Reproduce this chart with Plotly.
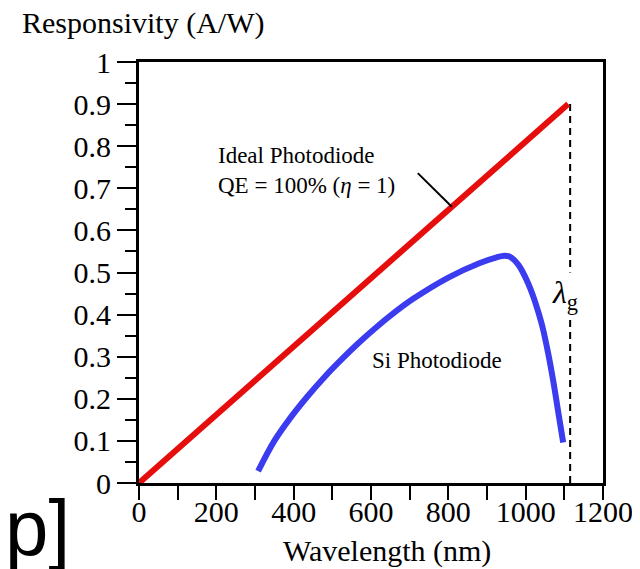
import plotly.graph_objects as go

# Data
ideal_wavelength = [0, 1110]
ideal_resp = [0.0, 0.9]

si_wavelength = [308, 350, 390, 435, 480, 520, 565, 610, 665, 710, 800, 880, 925, 945, 958, 970, 982, 993, 1006, 1019, 1032, 1045, 1058, 1071, 1084, 1097]
si_resp = [0.028, 0.100, 0.153, 0.205, 0.252, 0.290, 0.330, 0.367, 0.408, 0.438, 0.488, 0.522, 0.536, 0.540, 0.538, 0.530, 0.517, 0.500, 0.475, 0.445, 0.408, 0.365, 0.309, 0.244, 0.170, 0.096]

cutoff_wavelength = [1115, 1115]
cutoff_resp = [0.0, 0.9]

x_ticks = [0, 200, 400, 600, 800, 1000, 1200]
y_ticks = [0, 0.1, 0.2, 0.3, 0.4, 0.5, 0.6, 0.7, 0.8, 0.9, 1]
y_ticklabels = ["0", "0.1", "0.2", "0.3", "0.4", "0.5", "0.6", "0.7", "0.8", "0.9", "1"]

SERIF = "Liberation Serif, Times New Roman, serif"

# plot area in figure pixels
L, R, T, B = 131, 45, 54, 94
PW, PH = 640 - L - R, 569 - T - B

fig = go.Figure()
fig.add_trace(go.Scatter(x=cutoff_wavelength, y=cutoff_resp, mode="lines",
                         line=dict(color="black", width=2, dash="7px,5px"),
                         showlegend=False, hoverinfo="skip"))
fig.add_trace(go.Scatter(x=ideal_wavelength, y=ideal_resp, mode="lines",
                         line=dict(color="#e60d0d", width=6),
                         showlegend=False))
fig.add_trace(go.Scatter(x=si_wavelength, y=si_resp, mode="lines",
                         line=dict(color="#3b3bf0", width=6, shape="spline", smoothing=1.0),
                         showlegend=False))

axis_common = dict(showline=True, linecolor="black", linewidth=3, mirror=True,
                   showgrid=False, zeroline=False, ticks="outside",
                   tickcolor="black", tickwidth=2,
                   tickfont=dict(family=SERIF, size=30, color="black"))

fig.update_xaxes(range=[0, 1200], tickvals=x_ticks, ticklen=14, ticklabelstandoff=-14,
                 minor=dict(dtick=100, ticks="outside", ticklen=14, tickcolor="black", tickwidth=2),
                 **axis_common)
fig.update_yaxes(range=[0, 1], tickvals=y_ticks, ticktext=y_ticklabels, ticklen=19,
                 minor=dict(dtick=0.05, ticks="outside", ticklen=11, tickcolor="black", tickwidth=2),
                 **axis_common)

annots = [
    dict(text="Responsivity (A/W)", xref="paper", yref="paper", x=(12 - L) / PW, y=1 + 39 / PH,
         xanchor="left", yanchor="middle", font=dict(size=30)),
    dict(text="Wavelength (nm)", xref="paper", yref="paper", x=(379 - L) / PW, y=-68 / PH,
         xanchor="center", yanchor="middle", font=dict(size=30)),
    dict(text="Ideal Photodiode", x=200, y=0.779, xanchor="left", yanchor="middle", font=dict(size=23)),
    dict(text="QE = 100% (<i>η</i> = 1)", x=200, y=0.706, xanchor="left", yanchor="middle", font=dict(size=23)),
    dict(text="Si Photodiode", x=771, y=0.29, xanchor="center", yanchor="middle", font=dict(size=23)),
    dict(text="<i>λ</i><sub>g</sub>", x=1102, y=0.447, xanchor="center", yanchor="middle",
         font=dict(size=32), bgcolor="white"),
]
for a in annots:
    a.setdefault("showarrow", False)
    a["font"].update(family=SERIF, color="black")
    fig.add_annotation(**a)

fig.add_annotation(text="p]", xref="paper", yref="paper", x=(-5 - L) / PW, y=-91 / PH,
                   xanchor="left", yanchor="bottom", showarrow=False,
                   font=dict(family="Liberation Sans, Arial, sans-serif", size=78, color="black"))

fig.add_shape(type="line", x0=721, y0=0.736, x1=809, y1=0.656,
              line=dict(color="black", width=2))

fig.update_layout(width=640, height=569,
                  margin=dict(l=L, r=R, t=T, b=B),
                  paper_bgcolor="white", plot_bgcolor="white")

fig.write_html("out.html")
